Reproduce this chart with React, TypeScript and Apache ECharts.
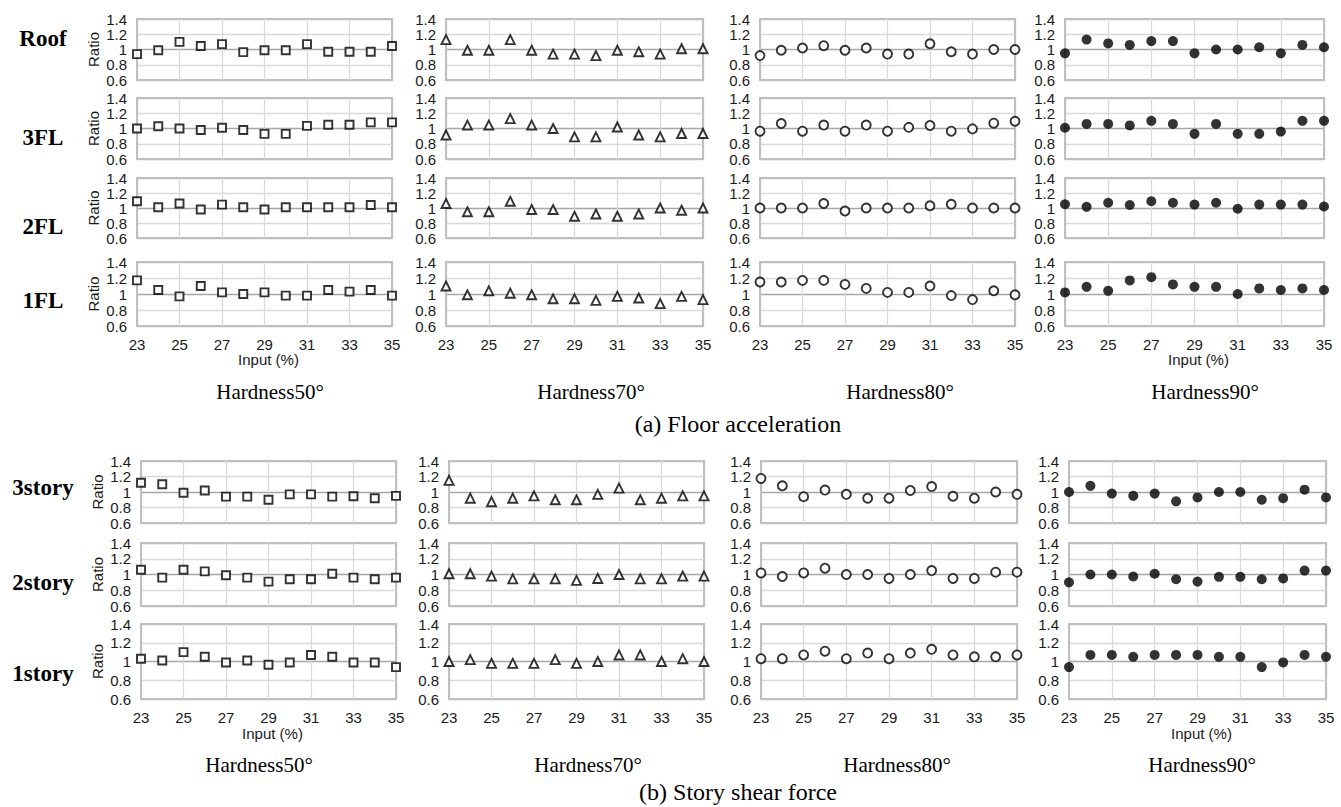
import React, { useEffect, useRef } from "react";
import * as echarts from "echarts";

// ---------- data ----------
const inputLevels = ["23", "24", "25", "26", "27", "28", "29", "30", "31", "32", "33", "34", "35"];
const hardnessLabels = ["Hardness50°", "Hardness70°", "Hardness80°", "Hardness90°"];
const accRowLabels = ["Roof", "3FL", "2FL", "1FL"];
const shearRowLabels = ["3story", "2story", "1story"];
const yAxisName = "Ratio";
const xAxisName = "Input (%)";
const accTitle = "(a) Floor acceleration";
const shearTitle = "(b) Story shear force";

// (a) Floor acceleration ratios
const accRoof50 = [0.94, 0.99, 1.1, 1.045, 1.07, 0.965, 0.99, 0.99, 1.07, 0.97, 0.97, 0.97, 1.045];
const accRoof70 = [1.13, 0.99, 0.99, 1.13, 0.99, 0.94, 0.94, 0.92, 0.99, 0.97, 0.94, 1.01, 1.01];
const accRoof80 = [0.92, 0.99, 1.02, 1.05, 0.99, 1.02, 0.94, 0.94, 1.075, 0.97, 0.94, 1.0, 1.0];
const accRoof90 = [0.95, 1.13, 1.08, 1.06, 1.11, 1.11, 0.95, 1.0, 1.0, 1.03, 0.95, 1.06, 1.03];

const acc3FL50 = [1.0, 1.03, 1.0, 0.98, 1.01, 0.98, 0.93, 0.93, 1.035, 1.05, 1.05, 1.08, 1.08];
const acc3FL70 = [0.915, 1.045, 1.045, 1.13, 1.045, 1.0, 0.89, 0.89, 1.02, 0.915, 0.89, 0.935, 0.935];
const acc3FL80 = [0.965, 1.065, 0.965, 1.045, 0.965, 1.045, 0.965, 1.015, 1.04, 0.965, 0.995, 1.07, 1.095];
const acc3FL90 = [1.01, 1.06, 1.06, 1.04, 1.1, 1.06, 0.93, 1.06, 0.93, 0.93, 0.96, 1.1, 1.1];

const acc2FL50 = [1.09, 1.01, 1.06, 0.98, 1.045, 1.01, 0.98, 1.01, 1.01, 1.01, 1.01, 1.04, 1.01];
const acc2FL70 = [1.06, 0.95, 0.95, 1.09, 0.98, 0.98, 0.89, 0.92, 0.89, 0.92, 1.0, 0.97, 1.0];
const acc2FL80 = [1.0, 1.0, 1.0, 1.06, 0.96, 1.0, 1.0, 1.0, 1.03, 1.05, 1.0, 1.0, 1.0];
const acc2FL90 = [1.05, 1.015, 1.07, 1.04, 1.09, 1.07, 1.045, 1.07, 0.99, 1.045, 1.045, 1.045, 1.02];

const acc1FL50 = [1.17, 1.05, 0.97, 1.1, 1.02, 1.0, 1.02, 0.98, 0.98, 1.05, 1.03, 1.05, 0.98];
const acc1FL70 = [1.1, 0.99, 1.04, 1.01, 0.99, 0.94, 0.94, 0.92, 0.97, 0.95, 0.88, 0.97, 0.93];
const acc1FL80 = [1.15, 1.15, 1.17, 1.17, 1.12, 1.07, 1.02, 1.02, 1.1, 0.98, 0.93, 1.04, 0.99];
const acc1FL90 = [1.02, 1.09, 1.04, 1.17, 1.21, 1.12, 1.09, 1.09, 1.0, 1.07, 1.05, 1.07, 1.05];

// (b) Story shear force ratios
const sh3st50 = [1.12, 1.1, 0.99, 1.02, 0.94, 0.94, 0.9, 0.97, 0.97, 0.94, 0.945, 0.92, 0.95];
const sh3st70 = [1.15, 0.92, 0.875, 0.92, 0.95, 0.9, 0.9, 0.97, 1.05, 0.9, 0.92, 0.95, 0.95];
const sh3st80 = [1.175, 1.08, 0.94, 1.025, 0.97, 0.92, 0.92, 1.02, 1.07, 0.945, 0.92, 1.0, 0.97];
const sh3st90 = [1.0, 1.08, 0.98, 0.95, 0.98, 0.88, 0.93, 1.0, 1.0, 0.9, 0.92, 1.03, 0.93];

const sh2st50 = [1.06, 0.96, 1.06, 1.04, 0.99, 0.96, 0.91, 0.94, 0.94, 1.01, 0.96, 0.94, 0.96];
const sh2st70 = [1.01, 1.01, 0.98, 0.945, 0.945, 0.945, 0.925, 0.95, 1.0, 0.945, 0.945, 0.98, 0.98];
const sh2st80 = [1.02, 0.975, 1.02, 1.08, 1.0, 1.0, 0.95, 1.0, 1.05, 0.95, 0.95, 1.03, 1.03];
const sh2st90 = [0.9, 1.0, 1.0, 0.975, 1.01, 0.94, 0.91, 0.97, 0.97, 0.94, 0.95, 1.05, 1.05];

const sh1st50 = [1.03, 1.01, 1.1, 1.05, 0.99, 1.01, 0.965, 0.99, 1.07, 1.05, 0.99, 0.99, 0.94];
const sh1st70 = [1.0, 1.02, 0.98, 0.98, 0.98, 1.02, 0.98, 1.0, 1.07, 1.07, 1.0, 1.03, 1.0];
const sh1st80 = [1.03, 1.03, 1.07, 1.11, 1.03, 1.09, 1.03, 1.09, 1.13, 1.07, 1.05, 1.05, 1.07];
const sh1st90 = [0.94, 1.07, 1.07, 1.05, 1.07, 1.07, 1.07, 1.05, 1.05, 0.94, 0.99, 1.07, 1.05];

const accRows = [
  [accRoof50, accRoof70, accRoof80, accRoof90],
  [acc3FL50, acc3FL70, acc3FL80, acc3FL90],
  [acc2FL50, acc2FL70, acc2FL80, acc2FL90],
  [acc1FL50, acc1FL70, acc1FL80, acc1FL90],
];
const shearRows = [
  [sh3st50, sh3st70, sh3st80, sh3st90],
  [sh2st50, sh2st70, sh2st80, sh2st90],
  [sh1st50, sh1st70, sh1st80, sh1st90],
];

// ---------- layout ----------
const SANS = "'Liberation Sans', Arial, sans-serif";
const SERIF = "'Liberation Serif', 'Times New Roman', serif";

const sections = [
  {
    rows: accRows,
    rowLabels: accRowLabels,
    tops: [19, 98, 178, 262],
    heights: [61, 61, 60, 64],
    lefts: [137, 446, 760, 1065],
    widths: [255, 257, 255, 259],
    rowLabelY: [38, 137, 226, 300],
    hardnessX: [270, 591, 900, 1205],
    hardnessY: 392,
    inputY: 359,
    title: accTitle,
    titleY: 424,
  },
  {
    rows: shearRows,
    rowLabels: shearRowLabels,
    tops: [461, 543, 624],
    heights: [62, 63, 75],
    lefts: [141, 449, 761, 1069],
    widths: [255, 255, 256, 257],
    rowLabelY: [487, 582, 673],
    hardnessX: [259, 588, 897, 1202],
    hardnessY: 765,
    inputY: 733,
    title: shearTitle,
    titleY: 792,
  },
];

const markerStyles = [
  { symbol: "rect", symbolSize: 8, itemStyle: { color: "#fff", borderColor: "#000", borderWidth: 1.9 } },
  { symbol: "triangle", symbolSize: 9, itemStyle: { color: "#fff", borderColor: "#000", borderWidth: 1.9 } },
  { symbol: "circle", symbolSize: 9, itemStyle: { color: "#fff", borderColor: "#000", borderWidth: 1.9 } },
  { symbol: "circle", symbolSize: 10, itemStyle: { color: "#000", borderWidth: 0 } },
];

function buildOption() {
  const grid: any[] = [];
  const xAxis: any[] = [];
  const yAxis: any[] = [];
  const series: any[] = [];
  const graphic: any[] = [];
  let idx = 0;

  sections.forEach((sec) => {
    const nRows = sec.rows.length;
    sec.rows.forEach((row, r) => {
      const isBottom = r === nRows - 1;
      row.forEach((values, c) => {
        grid.push({
          left: sec.lefts[c],
          top: sec.tops[r],
          width: sec.widths[c],
          height: sec.heights[r],
          show: true,
          borderColor: "#bfbfbf",
          borderWidth: 2,
          backgroundColor: "transparent",
        });
        xAxis.push({
          type: "category",
          gridIndex: idx,
          data: inputLevels,
          boundaryGap: false,
          axisLine: { show: false },
          axisTick: { show: false },
          axisLabel: {
            show: isBottom,
            interval: 1,
            fontSize: 15,
            fontFamily: SANS,
            color: "#1a1a1a",
            margin: 11,
          },
          splitLine: {
            show: true,
            interval: 1,
            lineStyle: {
              color: ["#bfbfbf", "#d9d9d9", "#d9d9d9", "#d9d9d9", "#d9d9d9", "#d9d9d9", "#bfbfbf"],
              width: 1.3,
            },
          },
        });
        yAxis.push({
          type: "value",
          gridIndex: idx,
          min: 0.6,
          max: 1.4,
          interval: 0.2,
          axisLine: { show: false },
          axisTick: { show: false },
          axisLabel: {
            fontSize: 15,
            fontFamily: SANS,
            color: "#1a1a1a",
            margin: 10,
            formatter: (v: number) => String(Math.round(v * 10) / 10),
          },
          splitLine: {
            show: true,
            lineStyle: {
              color: ["#bfbfbf", "#d9d9d9", "#a6a6a6", "#d9d9d9", "#bfbfbf"],
              width: 1.4,
            },
          },
        });
        series.push({
          type: "scatter",
          xAxisIndex: idx,
          yAxisIndex: idx,
          data: values,
          clip: false,
          ...markerStyles[c],
        });
        idx++;
      });

      graphic.push({
        type: "text",
        x: 43,
        y: sec.rowLabelY[r],
        style: {
          text: sec.rowLabels[r],
          font: `bold 23px ${SERIF}`,
          fill: "#000",
          align: "center",
          verticalAlign: "middle",
        },
      });
      graphic.push({
        type: "text",
        x: sec.lefts[0] - 44,
        y: sec.tops[r] + sec.heights[r] / 2,
        rotation: Math.PI / 2,
        style: {
          text: yAxisName,
          font: `15px ${SANS}`,
          fill: "#1a1a1a",
          align: "center",
          verticalAlign: "middle",
        },
      });
    });

    [0, 3].forEach((c) => {
      graphic.push({
        type: "text",
        x: sec.lefts[c] + sec.widths[c] / 2 + 4,
        y: sec.inputY,
        style: {
          text: xAxisName,
          font: `15px ${SANS}`,
          fill: "#1a1a1a",
          align: "center",
          verticalAlign: "middle",
        },
      });
    });

    hardnessLabels.forEach((h, c) => {
      graphic.push({
        type: "text",
        x: sec.hardnessX[c],
        y: sec.hardnessY,
        style: {
          text: h,
          font: `21px ${SERIF}`,
          fill: "#000",
          align: "center",
          verticalAlign: "middle",
        },
      });
    });

    graphic.push({
      type: "text",
      x: 738,
      y: sec.titleY,
      style: {
        text: sec.title,
        font: `24px ${SERIF}`,
        fill: "#000",
        align: "center",
        verticalAlign: "middle",
      },
    });
  });

  return {
    animation: false,
    backgroundColor: "#fff",
    grid,
    xAxis,
    yAxis,
    series,
    graphic,
  };
}

export default function App() {
  const ref = useRef<HTMLDivElement>(null);
  useEffect(() => {
    if (!ref.current) return;
    const chart = echarts.init(ref.current, undefined, { renderer: "svg" });
    chart.setOption(buildOption() as any);
    return () => chart.dispose();
  }, []);
  return (
    <div
      ref={ref}
      style={{ position: "absolute", left: 0, top: 0, width: 1341, height: 807 }}
    />
  );
}
